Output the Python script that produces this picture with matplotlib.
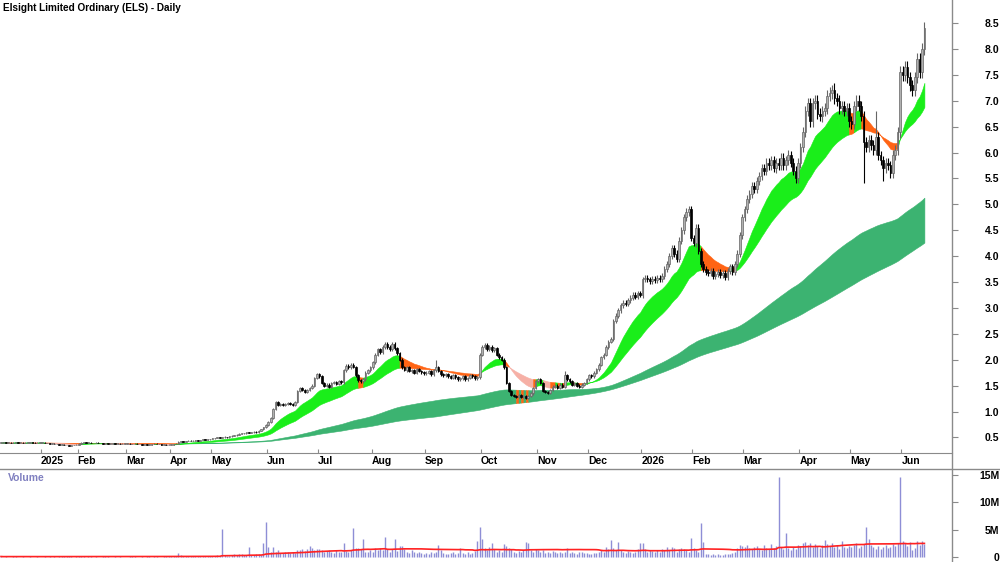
import numpy as np
import pandas as pd
import matplotlib
matplotlib.use("Agg")
import matplotlib.pyplot as plt
from matplotlib.lines import Line2D

# month labels on the date strip and trading days per month (first block = Dec 2024, unlabeled)
month_labels = ["", "2025", "Feb", "Mar", "Apr", "May", "Jun", "Jul", "Aug", "Sep", "Oct",
                "Nov", "Dec", "2026", "Feb", "Mar", "Apr", "May", "Jun"]
month_days = [17, 15, 20, 18, 17, 23, 21, 22, 22, 23, 23, 21, 22, 21, 21, 23, 21, 21, 10]

# daily closes, one line per month
close = [
    0.40, 0.41, 0.40, 0.40, 0.39, 0.40, 0.41, 0.40, 0.40, 0.39, 0.40, 0.40, 0.41, 0.40, 0.39, 0.40, 0.40,  # Dec 24
    0.40, 0.39, 0.39, 0.38, 0.38, 0.37, 0.37, 0.36, 0.36, 0.35, 0.35, 0.34, 0.35, 0.35, 0.36,  # Jan 25
    0.38, 0.40, 0.41, 0.40, 0.40, 0.39, 0.39, 0.40, 0.39, 0.39, 0.38, 0.39, 0.38, 0.38, 0.39, 0.38, 0.38, 0.37, 0.38, 0.38,  # Feb
    0.38, 0.37, 0.37, 0.38, 0.37, 0.37, 0.36, 0.37, 0.36, 0.36, 0.37, 0.38, 0.37, 0.37, 0.36, 0.36, 0.35, 0.36,  # Mar
    0.36, 0.37, 0.38, 0.42, 0.43, 0.42, 0.43, 0.44, 0.43, 0.44, 0.45, 0.44, 0.45, 0.46, 0.45, 0.46, 0.47,  # Apr
    0.48, 0.49, 0.50, 0.49, 0.50, 0.51, 0.50, 0.52, 0.53, 0.54, 0.55, 0.57, 0.58, 0.58, 0.60, 0.59, 0.60, 0.61, 0.60, 0.63, 0.66, 0.70, 0.74,  # May
    0.80, 0.88, 1.05, 1.18, 1.12, 1.15, 1.12, 1.14, 1.16, 1.15, 1.13, 1.18, 1.40, 1.45, 1.42, 1.38, 1.42, 1.45, 1.50, 1.65, 1.72,  # Jun
    1.68, 1.55, 1.50, 1.52, 1.48, 1.55, 1.57, 1.54, 1.58, 1.56, 1.80, 1.88, 1.85, 1.90, 1.86, 1.70, 1.60, 1.58, 1.62, 1.75, 1.80, 1.85,  # Jul
    1.95, 2.10, 2.20, 2.15, 2.25, 2.30, 2.25, 2.20, 2.30, 2.22, 2.12, 2.00, 1.85, 1.80, 1.85, 1.78, 1.80, 1.75, 1.82, 1.78, 1.76, 1.74,  # Aug
    1.75, 1.78, 1.72, 1.80, 1.85, 1.78, 1.72, 1.70, 1.72, 1.68, 1.65, 1.70, 1.66, 1.62, 1.64, 1.68, 1.62, 1.65, 1.70, 1.68, 1.64, 1.66, 2.10,  # Sep
    2.25, 2.28, 2.20, 2.25, 2.18, 2.22, 2.10, 2.05, 2.00, 1.85, 1.55, 1.40, 1.32, 1.30, 1.28, 1.32, 1.28, 1.30, 1.27, 1.30, 1.35, 1.45, 1.58,  # Oct
    1.62, 1.55, 1.40, 1.38, 1.36, 1.42, 1.48, 1.50, 1.46, 1.52, 1.48, 1.70, 1.62, 1.58, 1.52, 1.55, 1.50, 1.48, 1.52, 1.55, 1.62,  # Nov
    1.70, 1.68, 1.75, 1.82, 1.90, 2.05, 2.10, 2.25, 2.35, 2.40, 2.75, 2.85, 2.95, 3.05, 3.10, 3.08, 3.15, 3.20, 3.25, 3.22, 3.28, 3.25,  # Dec
    3.55, 3.58, 3.55, 3.52, 3.56, 3.54, 3.58, 3.55, 3.62, 3.75, 3.85, 4.00, 4.15, 4.05, 3.95, 4.30, 4.50, 4.75, 4.85, 4.90, 4.35,  # Jan 26
    4.25, 4.55, 4.10, 3.85, 3.75, 3.70, 3.68, 3.72, 3.62, 3.66, 3.70, 3.64, 3.68, 3.60, 3.72, 3.80, 3.70, 3.85, 4.05, 4.40, 4.75,  # Feb
    4.90, 5.10, 5.20, 5.35, 5.30, 5.45, 5.55, 5.70, 5.65, 5.80, 5.75, 5.85, 5.70, 5.80, 5.75, 5.90, 5.75, 5.85, 5.95, 5.80, 5.65, 5.50, 5.80,  # Mar
    6.10, 6.40, 6.80, 6.95, 6.60, 6.95, 7.00, 6.75, 6.70, 6.80, 6.85, 7.10, 7.15, 7.20, 7.05, 7.00, 6.85, 6.90, 6.80, 6.85, 6.60,  # Apr
    6.55, 6.90, 7.00, 6.90, 6.70, 6.20, 6.10, 6.25, 6.15, 6.05, 6.30, 5.95, 5.85, 5.70, 5.80, 5.75, 5.60, 5.95, 6.05, 6.40, 7.55,  # May
    7.50, 7.65, 7.45, 7.30, 7.20, 7.45, 7.80, 7.55, 8.00, 8.40,  # Jun
]

# long wicks that stand out
hi_idx = [179, 232, 343, 360]
hi_val = [2.00, 1.78, 7.35, 6.80]
lo_idx = [355, 363, 370]
lo_val = [5.42, 5.45, 6.35]

# daily volume, millions
volume = [
    0.10, 0.05, 0.10, 0.08, 0.05, 0.10, 0.12, 0.05, 0.08, 0.10, 0.05, 0.06, 0.10, 0.08, 0.05, 0.10, 0.07,
    0.08, 0.10, 0.05, 0.12, 0.06, 0.10, 0.08, 0.15, 0.10, 0.12, 0.20, 0.15, 0.10, 0.08, 0.12,
    0.15, 0.20, 0.10, 0.08, 0.10, 0.12, 0.05, 0.10, 0.08, 0.06, 0.10, 0.12, 0.10, 0.08, 0.05, 0.10, 0.08, 0.10, 0.06, 0.05,
    0.08, 0.10, 0.25, 0.10, 0.05, 0.08, 0.10, 0.06, 0.10, 0.12, 0.08, 0.15, 0.10, 0.06, 0.08, 0.10, 0.12, 0.10,
    0.10, 0.15, 0.20, 0.70, 0.30, 0.15, 0.10, 0.12, 0.20, 0.10, 0.15, 0.12, 0.10, 0.15, 0.20, 0.12, 0.15,
    0.2, 0.25, 0.3, 0.2, 5.1, 0.3, 0.2, 0.25, 0.3, 0.5, 0.4, 0.6, 0.5, 0.3, 0.4, 1.8, 0.4, 0.3, 0.5, 0.6, 0.4, 2.6, 6.4,
    1.8, 1.0, 1.8, 0.9, 1.2, 0.8, 0.7, 1.0, 0.9, 0.8, 1.0, 0.7, 1.3, 1.2, 1.5, 1.1, 1.4, 2.0, 1.6, 1.3, 1.5,
    1.4, 1.2, 0.9, 1.1, 1.3, 1.0, 0.8, 1.2, 1.0, 0.9, 2.6, 1.1, 1.0, 1.2, 5.3, 1.6, 1.7, 1.5, 3.3, 1.0, 0.9, 1.2,
    1.0, 1.6, 1.2, 1.7, 1.3, 3.6, 1.5, 1.0, 1.4, 3.3, 1.1, 2.0, 2.0, 1.4, 1.0, 0.8, 1.2, 0.9, 0.7, 1.0, 0.8, 0.6,
    0.8, 0.6, 0.9, 0.7, 1.0, 2.1, 1.2, 0.8, 0.6, 0.5, 0.7, 0.9, 0.6, 0.8, 1.6, 0.7, 0.5, 0.9, 0.6, 0.8, 1.1, 2.9, 5.5,
    3.3, 1.6, 1.2, 1.8, 2.5, 1.4, 1.0, 1.2, 0.9, 2.4, 2.0, 1.6, 1.5, 1.0, 0.8, 1.1, 0.9, 1.3, 2.8, 2.6, 1.2, 1.0, 1.5,
    1.3, 0.9, 1.2, 0.8, 1.0, 0.7, 1.1, 0.9, 0.8, 1.0, 0.7, 0.9, 1.6, 0.8, 1.0, 0.7, 0.6, 0.9, 1.0, 0.8, 0.7,
    0.5, 0.6, 0.8, 0.7, 1.0, 1.2, 0.9, 1.8, 1.5, 3.1, 1.6, 1.2, 2.8, 1.3, 1.0, 0.8, 1.1, 0.9, 0.7, 1.0, 1.4, 2.5,
    2.5, 1.4, 1.0, 1.3, 1.1, 0.9, 1.2, 1.0, 1.5, 1.3, 1.8, 1.2, 1.9, 1.6, 1.0, 1.4, 1.7, 1.5, 1.2, 1.0, 3.5,
    1.6, 1.2, 1.0, 6.2, 2.8, 0.6, 0.5, 0.4, 0.6, 0.4, 0.5, 0.3, 0.4, 0.5, 0.6, 0.5, 0.7, 1.0, 1.6, 2.2, 2.0,
    1.8, 2.2, 1.6, 1.4, 1.8, 2.0, 1.5, 1.3, 2.1, 1.7, 1.4, 2.3, 1.6, 2.0, 14.5, 1.8, 1.5, 4.3, 1.6, 1.2, 1.9, 1.5, 2.2,
    2.0, 2.5, 2.8, 2.2, 2.6, 1.8, 2.4, 2.0, 1.6, 2.2, 3.1, 2.4, 2.0, 2.6, 1.8, 2.2, 1.5, 2.9, 1.9, 1.6, 2.0,
    1.8, 2.2, 2.5, 1.6, 2.0, 2.4, 5.5, 3.3, 2.1, 1.8, 1.5, 2.0, 1.4, 1.8, 2.2, 1.6, 1.9, 2.3, 2.0, 2.5, 14.5,
    3.0, 2.5, 2.0, 2.7, 1.3, 1.6, 3.0, 2.2, 2.9, 2.3,
]

plt.rcParams['font.family'] = ['Liberation Sans', 'DejaVu Sans']
plt.rcParams['font.weight'] = 'bold'

GREEN = '#1aee1a'
ORANGE = '#ff6414'
PINK = '#f6b0a6'
DKGREEN = '#3cb371'
AXGREY = '#8a8a8a'

close = np.array(close)
vol = np.array(volume) * 1e6
n = len(close)
x = np.arange(n)

opn = np.r_[close[0], close[:-1]]
top = np.maximum(opn, close)
bot = np.minimum(opn, close)
high = top + close * 0.015
low = bot - close * 0.015
high[hi_idx] = np.maximum(high[hi_idx], hi_val)
low[lo_idx] = np.minimum(low[lo_idx], lo_val)

s = pd.Series(close)
short_fast = s.ewm(span=15, adjust=False).mean().values
short_slow = s.ewm(span=35, adjust=False).mean().values
long_fast = s.ewm(span=150, adjust=False).mean().values
long_slow = s.rolling(180, min_periods=1).mean().values
long_top = np.maximum(long_fast, long_slow)
long_mid = (long_fast + long_slow) / 2

# short band: green while the band rises, orange/pink while it falls
short_mid = (short_fast + short_slow) / 2
rising = np.r_[True, np.diff(short_mid) >= 0]
short_col = np.where(rising, GREEN, np.where(close > long_top, ORANGE, PINK))
long_col = np.where(close < long_mid, ORANGE, DKGREEN)


def fill_runs(ax, a, b, cols, z):
    start = 0
    for i in range(1, n + 1):
        if i == n or cols[i] != cols[start]:
            sl = slice(start, min(i + 1, n))
            ax.fill_between(x[sl], a[sl], b[sl], color=cols[start], lw=0.4, zorder=z)
            start = i


W, H = 1000, 562
fig = plt.figure(figsize=(10, 5.62), dpi=100)
ax = fig.add_axes([0, 1 - 453 / H, 952 / W, 453 / H])
axv = fig.add_axes([0, 0, 952 / W, (H - 469) / H])

fill_runs(ax, long_fast, long_slow, long_col, 1)
fill_runs(ax, short_fast, short_slow, short_col, 2)

up = close >= opn
wick_c = np.where(up, '#666666', 'black')
ax.vlines(x, low, high, colors=wick_c, lw=0.8, zorder=3)
ax.bar(x, np.maximum(top - bot, 0.01), bottom=bot, width=0.68,
       color=np.where(up, '#b0b0b0', 'black'), edgecolor=wick_c, lw=0.5, zorder=4)

xlim = (-1 / 2.43, 951 / 2.43)
ax.set_xlim(*xlim)
ax.set_ylim(0.199, 8.944)
ax.yaxis.tick_right()
ax.set_yticks(np.arange(0.5, 8.51, 0.5))
ax.set_yticklabels([f'{v:.1f}' for v in np.arange(0.5, 8.51, 0.5)])

starts = np.cumsum(month_days)[:-1]
ax.set_xticks(starts - 0.5)
ax.set_xticklabels(month_labels[1:])
for lbl in ax.get_xticklabels():
    lbl.set_horizontalalignment('left')
ax.tick_params(axis='x', direction='in', length=3, color=AXGREY, labelsize=7.5, pad=2.5)
ax.tick_params(axis='y', direction='out', length=4, color=AXGREY, labelsize=7.5, pad=30)
for lbl in ax.get_yticklabels():
    lbl.set_horizontalalignment('right')

for sp in ['top', 'left']:
    ax.spines[sp].set_visible(False)
ax.spines['bottom'].set_color(AXGREY)
ax.spines['right'].set_visible(False)

# volume panel
axv.vlines(x, 0, vol, colors='#8e8ed6', lw=1.0)
vol_ma = pd.Series(vol).rolling(50, min_periods=1).mean().values
axv.plot(x, vol_ma, color='#ff2222', lw=1.2)
axv.set_xlim(*xlim)
axv.set_ylim(-0.9e6, 16.0e6)
axv.yaxis.tick_right()
axv.set_yticks([0, 5e6, 10e6, 15e6])
axv.set_yticklabels(['0', '5M', '10M', '15M'])
axv.tick_params(axis='y', direction='out', length=4, color=AXGREY, labelsize=7.5, pad=30)
for lbl in axv.get_yticklabels():
    lbl.set_horizontalalignment('right')
axv.set_xticks([])
for sp in ['top', 'left', 'bottom', 'right']:
    axv.spines[sp].set_visible(False)

# frame lines: right axis across both panels, and the line under the date strip
fig.add_artist(Line2D([952 / W, 952 / W], [0, 1], color=AXGREY, lw=1.0))
fig.add_artist(Line2D([0, 1], [1 - 469 / H, 1 - 469 / H], color=AXGREY, lw=1.0))

fig.text(3 / W, 1 - 8 / H, 'Elsight Limited Ordinary (ELS) - Daily', fontsize=7.2,
         fontweight='bold', va='center', ha='left')
fig.text(8 / W, 1 - 478 / H, 'Volume', fontsize=7.5, fontweight='bold',
         color='#8080c0', va='center', ha='left')

fig.savefig('out.png', dpi=100)
